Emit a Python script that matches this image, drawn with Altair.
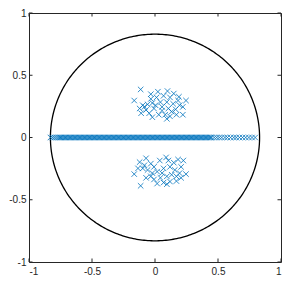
import altair as alt
import pandas as pd
import numpy as np

tick_values = [-1, -0.5, 0, 0.5, 1]
circle_radius = 0.83

# real eigenvalues along y = 0
real_x = [
    -0.83, -0.815, -0.80, -0.785, -0.77,
    -0.76, -0.75, -0.74, -0.73, -0.72, -0.71, -0.70, -0.69, -0.68, -0.67,
    -0.66, -0.65, -0.64, -0.63, -0.62, -0.61, -0.60, -0.59, -0.58, -0.57,
    -0.56, -0.55, -0.54, -0.53, -0.52, -0.51, -0.50, -0.49, -0.48, -0.47,
    -0.46, -0.45, -0.44, -0.43, -0.42, -0.41, -0.40, -0.39, -0.38, -0.37,
    -0.36, -0.35, -0.34, -0.33, -0.32, -0.31, -0.30, -0.29, -0.28, -0.27,
    -0.26, -0.25, -0.24, -0.23, -0.22, -0.21, -0.20, -0.19, -0.18, -0.17,
    -0.16, -0.15, -0.14, -0.13, -0.12, -0.11, -0.10, -0.09, -0.08, -0.07,
    -0.06, -0.05, -0.04, -0.03, -0.02, -0.01, 0.00, 0.01, 0.02, 0.03,
    0.04, 0.05, 0.06, 0.07, 0.08, 0.09, 0.10, 0.11, 0.12, 0.13,
    0.14, 0.15, 0.16, 0.17, 0.18, 0.19, 0.20, 0.21, 0.22, 0.23,
    0.24, 0.25, 0.26, 0.27, 0.28, 0.29, 0.30, 0.31, 0.32, 0.33,
    0.34, 0.35, 0.36, 0.37, 0.38, 0.39, 0.40, 0.41, 0.42, 0.43,
    0.44, 0.45,
    0.47, 0.49, 0.51, 0.53, 0.555, 0.575, 0.60, 0.625, 0.645, 0.67,
    0.695, 0.72, 0.745, 0.77, 0.795,
]

upper_x = [-0.114, -0.165, -0.033, 0.023, 0.099, 0.149, 0.19, 0.246, -0.033, 0.012,
           0.068, 0.119, 0.183, -0.097, -0.059, -0.021, 0.043, 0.094, 0.144, 0.195,
           -0.122, -0.071, -0.008, 0.056, 0.106, 0.164, 0.221, -0.11, -0.046, 0.03,
           0.081, 0.119, 0.17, 0.221, -0.021, 0.094, 0.056, 0.004, -0.084, 0.132]
upper_y = [0.386, 0.297, 0.348, 0.368, 0.373, 0.353, 0.327, 0.297, 0.31, 0.322,
           0.335, 0.322, 0.297, 0.259, 0.266, 0.277, 0.284, 0.284, 0.271, 0.259,
           0.233, 0.221, 0.233, 0.246, 0.233, 0.226, 0.246, 0.195, 0.195, 0.183,
           0.183, 0.17, 0.183, 0.183, 0.163, 0.15, 0.216, 0.259, 0.246, 0.208]

lower_x = [-0.114, -0.165, -0.122, -0.071, -0.033, -0.097, -0.059, -0.008, 0.038, 0.088,
           0.106, 0.149, 0.183, 0.225, 0.207, 0.246, 0.195, 0.157, 0.119, 0.068,
           0.017, -0.033, -0.071, -0.008, 0.043, 0.094, 0.132, 0.068, 0.017, 0.119,
           0.17, 0.207, 0.094, 0.056, -0.021, 0.17, -0.084, -0.135]
lower_y = [-0.388, -0.294, -0.198, -0.167, -0.21, -0.248, -0.261, -0.236, -0.185, -0.16,
           -0.185, -0.202, -0.177, -0.185, -0.236, -0.294, -0.286, -0.261, -0.236, -0.248,
           -0.274, -0.312, -0.324, -0.337, -0.324, -0.312, -0.299, -0.362, -0.37, -0.354,
           -0.35, -0.324, -0.375, -0.286, -0.286, -0.312, -0.223, -0.248]

pts = pd.DataFrame({
    "x": real_x + upper_x + lower_x,
    "y": [0.0] * len(real_x) + upper_y + lower_y,
})

theta = np.linspace(0, 2 * np.pi, 361)
circ = pd.DataFrame({
    "x": circle_radius * np.cos(theta),
    "y": circle_radius * np.sin(theta),
    "o": np.arange(len(theta)),
})

tx = pd.DataFrame({"x": tick_values})
ty = pd.DataFrame({"y": tick_values})

W, H = 252, 249
TL = 3.5
AX = "#262626"

xs = alt.Scale(domain=[-1, 1], nice=False, zero=False)
ys = alt.Scale(domain=[-1, 1], nice=False, zero=False)

common = dict(values=tick_values, labelExpr="toString(datum.value)", ticks=False,
              domain=False, grid=False, labelFontSize=10, labelFont="Liberation Sans",
              labelColor=AX, title=None)
xaxis = alt.Axis(labelPadding=4, **common)
yaxis = alt.Axis(labelPadding=3, **common)

X = alt.X("x:Q", scale=xs, axis=xaxis)
Y = alt.Y("y:Q", scale=ys, axis=yaxis)

points = alt.Chart(pts).mark_point(
    shape="M-1,-1L1,1M-1,1L1,-1", filled=False, size=30, strokeWidth=0.8,
    color="#0072BD", opacity=1
).encode(x=X, y=Y)

circle = alt.Chart(circ).mark_line(color="black", strokeWidth=1.3).encode(
    x=X, y=Y, order="o:Q")

tick_style = dict(color=AX, strokeWidth=1)
bt = alt.Chart(tx).mark_rule(**tick_style).encode(x=X, y=alt.value(H), y2=alt.value(H - TL))
tt = alt.Chart(tx).mark_rule(**tick_style).encode(x=X, y=alt.value(0), y2=alt.value(TL))
lt = alt.Chart(ty).mark_rule(**tick_style).encode(y=Y, x=alt.value(0), x2=alt.value(TL))
rt = alt.Chart(ty).mark_rule(**tick_style).encode(y=Y, x=alt.value(W), x2=alt.value(W - TL))

chart = alt.layer(circle, points, bt, tt, lt, rt).properties(
    width=W, height=H,
    autosize=alt.AutoSizeParams(type="none"),
    padding={"left": 21, "top": 5, "right": 2, "bottom": 14},
    background="white",
).configure_view(stroke=AX, strokeWidth=1)

chart.save("out.html", embed_options={"renderer": "svg", "actions": False})
